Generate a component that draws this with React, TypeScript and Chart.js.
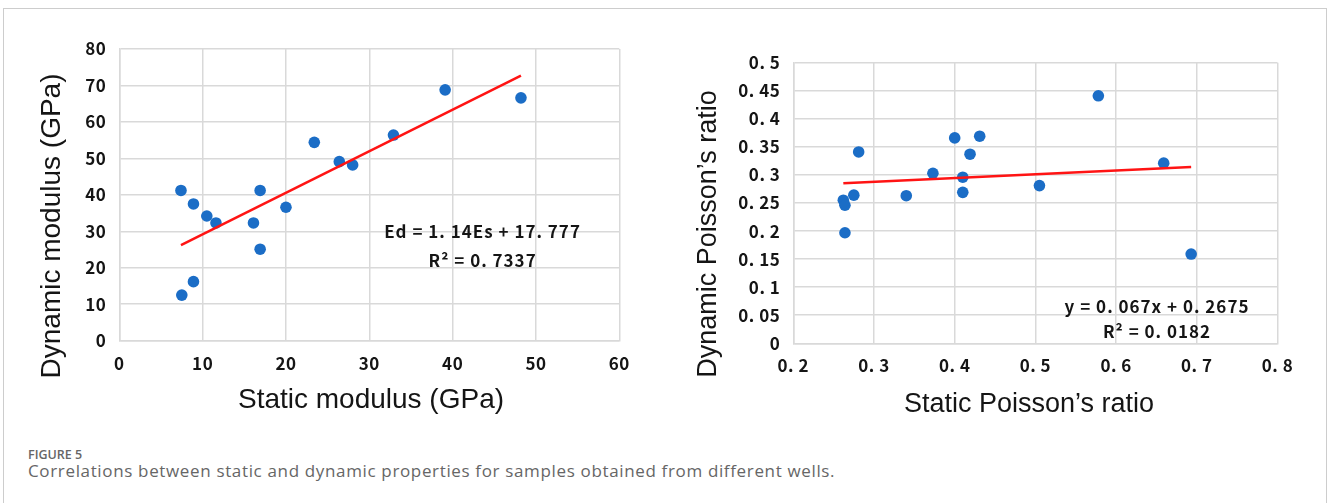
import React, { useEffect, useRef } from "react";
import { Chart, registerables } from "chart.js";

Chart.register(...registerables);

// ---- Left panel: static vs dynamic modulus (GPa) ----
const staticModulus = [7.4, 8.9, 10.5, 11.6, 16.1, 16.9, 16.9, 20.0, 23.4, 26.4, 28.0, 32.9, 7.5, 8.9, 39.1, 48.2];
const dynamicModulus = [41.2, 37.5, 34.2, 32.3, 32.3, 41.2, 25.1, 36.6, 54.4, 49.1, 48.2, 56.4, 12.5, 16.2, 68.8, 66.6];
const modulusFit = { slope: 1.14, intercept: 17.777 };
const modulusXTicks = ["0", "10", "20", "30", "40", "50", "60"];
const modulusYTicks = ["0", "10", "20", "30", "40", "50", "60", "70", "80"];
const modulusNotes = ["Ed = 1. 14Es + 17. 777", "R² = 0. 7337"];

// ---- Right panel: static vs dynamic Poisson's ratio ----
const staticPoisson = [0.262, 0.264, 0.264, 0.275, 0.281, 0.34, 0.373, 0.4, 0.41, 0.41, 0.419, 0.431, 0.505, 0.578, 0.659, 0.693];
const dynamicPoisson = [0.255, 0.246, 0.197, 0.264, 0.341, 0.263, 0.303, 0.366, 0.296, 0.269, 0.337, 0.369, 0.281, 0.441, 0.321, 0.159];
const poissonFit = { slope: 0.067, intercept: 0.2675 };
const poissonXTicks = ["0. 2", "0. 3", "0. 4", "0. 5", "0. 6", "0. 7", "0. 8"];
const poissonYTicks = ["0", "0. 05", "0. 1", "0. 15", "0. 2", "0. 25", "0. 3", "0. 35", "0. 4", "0. 45", "0. 5"];
const poissonNotes = ["y = 0. 067x + 0. 2675", "R² = 0. 0182"];

const CJK_FAMILY = "'Noto Sans CJK SC', 'Noto Sans', sans-serif";
const TICK_FONT = { family: CJK_FAMILY, size: 17, weight: "bold" };
const TITLE_FAMILY = "'Liberation Sans', Arial, sans-serif";
const GRID = "#d9d9d9";
const INK = "#151515";

// Widens glyph spacing for the tick labels, then draws the axis captions
// and the regression equation text.
const panelText = {
  id: "panelText",
  beforeDraw(chart: any) {
    (chart.ctx as any).letterSpacing = "0.5px";
  },
  afterDraw(chart: any, _args: any, opts: any) {
    const { ctx } = chart;
    (ctx as any).letterSpacing = "0px";
    const caption = (t: any, rotate: boolean) => {
      ctx.save();
      ctx.translate(t.x, t.y);
      if (rotate) ctx.rotate(-Math.PI / 2);
      ctx.font = `${t.size}px ${TITLE_FAMILY}`;
      ctx.fillStyle = INK;
      ctx.textAlign = "center";
      ctx.textBaseline = "middle";
      ctx.fillText(t.text, 0, 0);
      ctx.restore();
    };
    if (opts.xTitle) caption(opts.xTitle, false);
    if (opts.yTitle) caption(opts.yTitle, true);
    if (opts.notes) {
      const xs = chart.scales.x;
      const ys = chart.scales.y;
      ctx.save();
      (ctx as any).letterSpacing = "1px";
      ctx.font = `bold 17px ${CJK_FAMILY}`;
      ctx.fillStyle = INK;
      ctx.textAlign = "center";
      ctx.textBaseline = "middle";
      opts.notes.lines.forEach((line: string, i: number) => {
        ctx.fillText(line, xs.getPixelForValue(opts.notes.x), ys.getPixelForValue(opts.notes.y[i]));
      });
      ctx.restore();
    }
  },
};

type PanelProps = {
  left: number;
  width: number;
  height: number;
  xs: number[];
  ys: number[];
  fit: { slope: number; intercept: number };
  xRange: [number, number, number];
  yRange: [number, number, number];
  xTicks: string[];
  yTicks: string[];
  xTitle: string;
  yTitle: string;
  titleSize: number;
  area: { left: number; right: number; top: number; bottom: number };
  xTickPad: number;
  yTickPad: number;
  xTitlePos: [number, number];
  yTitlePos: [number, number];
  notes: string[];
  notePos: { x: number; y: number[] };
};

function ScatterPanel(p: PanelProps) {
  const ref = useRef<HTMLCanvasElement | null>(null);

  useEffect(() => {
    if (!ref.current) return;
    const points = p.xs.map((x, i) => ({ x, y: p.ys[i] }));
    const xMin = Math.min(...p.xs);
    const xMax = Math.max(...p.xs);
    const fitLine = [
      { x: xMin, y: p.fit.slope * xMin + p.fit.intercept },
      { x: xMax, y: p.fit.slope * xMax + p.fit.intercept },
    ];
    const label = (labels: string[], range: [number, number, number]) => (v: any) =>
      labels[Math.round((Number(v) - range[0]) / range[2])] ?? "";

    const chart = new Chart(ref.current, {
      type: "scatter",
      data: {
        datasets: [
          {
            data: fitLine,
            showLine: true,
            borderColor: "#ff1414",
            borderWidth: 2.5,
            pointRadius: 0,
            order: 0,
          } as any,
          {
            data: points,
            backgroundColor: "#1b6dc6",
            borderWidth: 0,
            pointRadius: 5.8,
            order: 1,
          } as any,
        ],
      },
      options: {
        animation: false,
        responsive: false,
        devicePixelRatio: 1,
        layout: {
          padding: {
            left: 0,
            top: p.area.top,
            right: p.width - p.area.right,
            bottom: 0,
          },
        },
        plugins: {
          legend: { display: false },
          tooltip: { enabled: false },
          panelText: {
            xTitle: { text: p.xTitle, x: p.xTitlePos[0], y: p.xTitlePos[1], size: p.titleSize },
            yTitle: { text: p.yTitle, x: p.yTitlePos[0], y: p.yTitlePos[1], size: p.titleSize },
            notes: { lines: p.notes, x: p.notePos.x, y: p.notePos.y },
          },
        } as any,
        scales: {
          x: {
            type: "linear",
            min: p.xRange[0],
            max: p.xRange[1],
            afterFit: (s: any) => {
              s.height = p.height - p.area.bottom;
            },
            ticks: {
              stepSize: p.xRange[2],
              autoSkip: false,
              maxRotation: 0,
              padding: p.xTickPad,
              color: INK,
              font: TICK_FONT as any,
              callback: label(p.xTicks, p.xRange),
            },
            grid: { color: GRID, lineWidth: 1.5, drawTicks: false },
            border: { color: GRID, width: 1.5 },
          },
          y: {
            type: "linear",
            min: p.yRange[0],
            max: p.yRange[1],
            afterFit: (s: any) => {
              s.width = p.area.left;
            },
            ticks: {
              stepSize: p.yRange[2],
              autoSkip: false,
              padding: p.yTickPad,
              color: INK,
              font: TICK_FONT as any,
              callback: label(p.yTicks, p.yRange),
            },
            grid: { color: GRID, lineWidth: 1.5, drawTicks: false },
            border: { color: GRID, width: 1.5 },
          },
        },
      } as any,
      plugins: [panelText as any],
    });
    return () => chart.destroy();
  }, []);

  return (
    <canvas
      ref={ref}
      width={p.width}
      height={p.height}
      style={{ position: "absolute", left: p.left, top: 0, width: p.width, height: p.height }}
    />
  );
}

export default function App() {
  return (
    <div
      style={{
        position: "fixed",
        left: 0,
        top: 0,
        width: 1327,
        height: 503,
        background: "#ffffff",
        overflow: "hidden",
      }}
    >
      <div
        style={{
          position: "absolute",
          left: 3,
          top: 8,
          width: 1324,
          height: 520,
          boxSizing: "border-box",
          border: "1px solid #cdcdcd",
          borderBottom: "none",
        }}
      />
      <ScatterPanel
        left={0}
        width={660}
        height={440}
        xs={staticModulus}
        ys={dynamicModulus}
        fit={modulusFit}
        xRange={[0, 60, 10]}
        yRange={[0, 80, 10]}
        xTicks={modulusXTicks}
        yTicks={modulusYTicks}
        xTitle="Static modulus (GPa)"
        yTitle="Dynamic modulus (GPa)"
        titleSize={28}
        area={{ left: 119.3, right: 619.3, top: 49, bottom: 340.7 }}
        xTickPad={13}
        yTickPad={13}
        xTitlePos={[371, 400]}
        yTitlePos={[52, 226]}
        notes={modulusNotes}
        notePos={{ x: 43.6, y: [29.8, 22.0] }}
      />
      <ScatterPanel
        left={660}
        width={667}
        height={440}
        xs={staticPoisson}
        ys={dynamicPoisson}
        fit={poissonFit}
        xRange={[0.2, 0.8, 0.1]}
        yRange={[0, 0.5, 0.05]}
        xTicks={poissonXTicks}
        yTicks={poissonYTicks}
        xTitle="Static Poisson’s ratio"
        yTitle="Dynamic Poisson’s ratio"
        titleSize={27}
        area={{ left: 133.3, right: 617.5, top: 62.7, bottom: 343.3 }}
        xTickPad={12.5}
        yTickPad={13}
        xTitlePos={[369, 405]}
        yTitlePos={[49, 234]}
        notes={poissonNotes}
        notePos={{ x: 0.6507, y: [0.0652, 0.0207] }}
      />
      <div
        style={{
          position: "absolute",
          left: 28,
          top: 449,
          fontFamily: "'Open Sans', sans-serif",
          fontWeight: 600,
          fontSize: 12.5,
          lineHeight: 1,
          color: "#666666",
          whiteSpace: "nowrap",
        }}
      >
        FIGURE 5
      </div>
      <div
        style={{
          position: "absolute",
          left: 28,
          top: 462,
          fontFamily: "'Open Sans', sans-serif",
          fontSize: 17,
          letterSpacing: 0.65,
          lineHeight: 1,
          color: "#666666",
          whiteSpace: "nowrap",
        }}
      >
        Correlations between static and dynamic properties for samples obtained from different wells.
      </div>
    </div>
  );
}
